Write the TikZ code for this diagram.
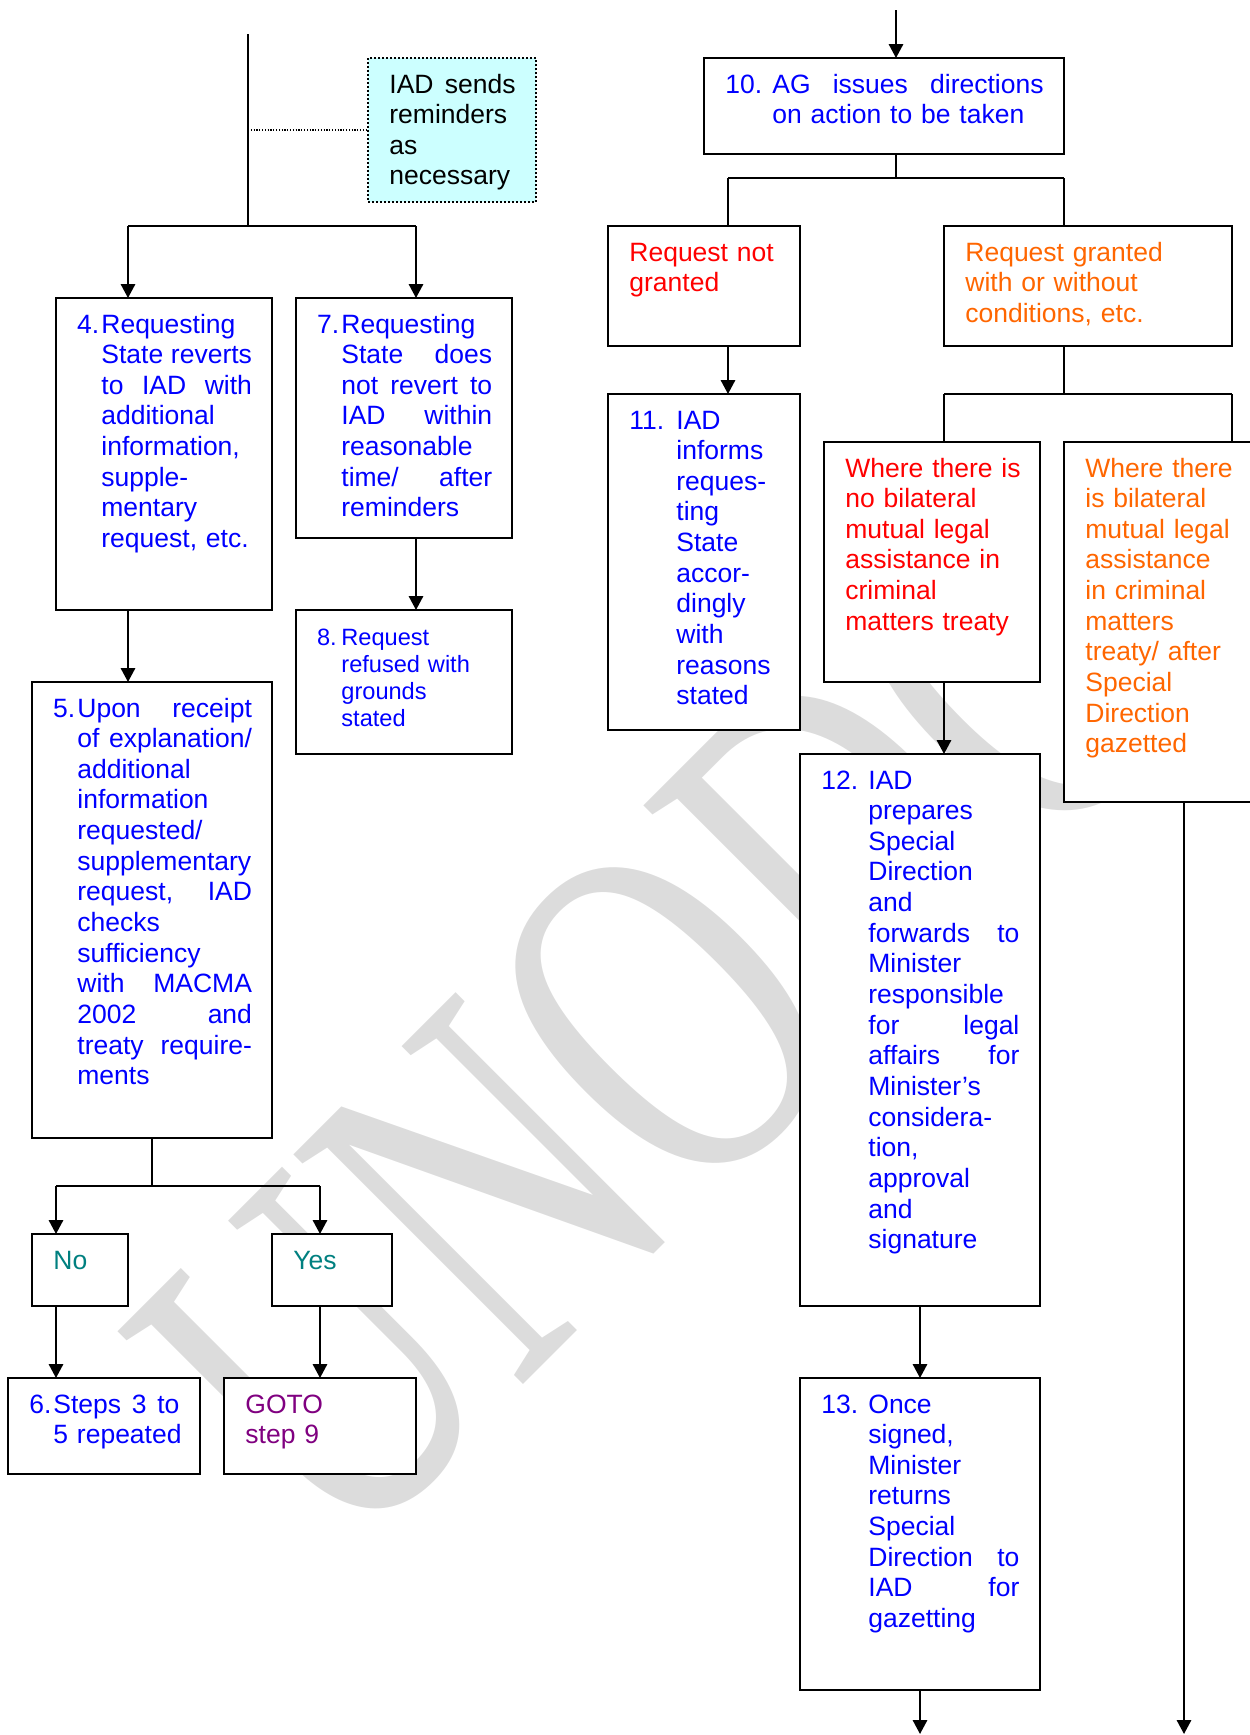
\documentclass[tikz,border=0pt]{standalone}
\usepackage{graphicx}
\usepackage{fontspec}
\setmainfont{Liberation Sans}
\newfontfamily\wmfont{Liberation Serif}
\usetikzlibrary{arrows.meta}
\definecolor{tblue}{RGB}{0,0,255}
\definecolor{tred}{RGB}{255,0,0}
\definecolor{torange}{RGB}{255,102,0}
\definecolor{tteal}{RGB}{0,128,128}
\definecolor{tpurple}{RGB}{128,0,128}
\definecolor{tcyan}{RGB}{204,255,255}
\definecolor{wmgray}{RGB}{220,220,220}
\newcommand{\JL}[2]{\leavevmode\hbox to #1{#2}}
\newcommand{\numb}[2]{\llap{\makebox[#2][l]{#1}}}
\begin{document}
\begin{tikzpicture}[x=0.5pt,y=-0.5pt,
  box/.style 2 args={draw, line width=1pt, fill=white, inner sep=0pt, outer sep=0pt,
    anchor=north west, minimum width=#1*0.5pt, minimum height=#2*0.5pt},
  txt/.style={inner sep=0pt, anchor=base west, align=left, text width=#1,
    font=\fontsize{13.25pt}{15.33pt}\selectfont},
  txt/.default=80pt,
  line/.style={line width=1pt},
  arr/.style={line width=1pt, -{Triangle[width=7.2pt,length=7pt]}}]
\useasboundingbox (0,0) rectangle (1249,1735);
% watermark
\node[rotate=45, text=wmgray, inner sep=0pt,
  font=\wmfont\fontsize{248pt}{248pt}\selectfont] (wm) at (658,1022) {\scalebox{0.69}[1]{UNODC}};

% ---------- left column ----------
\node[box={168}{144}, fill=tcyan, dash pattern=on 1pt off 1pt] (rem) at (368,58) {};
\node[txt=66pt] (trem) at (389,93) {\JL{63.1pt}{IAD\hfill sends}\\reminders\\as\\necessary};

\node[box={216}{312}] (b4) at (56,298) {};
\node[txt=78pt, text=tblue] (t4) at (101,333) {\numb{4.}{12.1pt}Requesting\\\JL{75.3pt}{State\hfill reverts}\\\JL{75.3pt}{to\hfill IAD\hfill with}\\additional\\information,\\supple-\\mentary\\request, etc.};

\node[box={216}{240}] (b7) at (296,298) {};
\node[txt=78pt, text=tblue] (t7) at (341,333) {\numb{7.}{12.1pt}Requesting\\\JL{75.4pt}{State\hfill does}\\\JL{75.4pt}{not\hfill revert\hfill to}\\\JL{75.4pt}{IAD\hfill within}\\reasonable\\\JL{75.4pt}{time/\hfill after}\\reminders};

\node[box={216}{144}] (b8) at (296,610) {};
\node[txt=78pt, text=tblue, font=\fontsize{11.8pt}{13.65pt}\selectfont] (t8) at (341,645) {\numb{8.}{12.2pt}Request\\refused with\\grounds\\stated};

\node[box={240}{456}] (b5) at (32,682) {};
\node[txt=90pt, text=tblue] (t5) at (77,717) {\numb{5.}{12.1pt}\JL{87.3pt}{Upon\hfill receipt}\\\JL{87.3pt}{of\hfill explanation/}\\additional\\information\\requested/\\supplementary\\\JL{87.3pt}{request,\hfill IAD}\\checks\\sufficiency\\\JL{87.3pt}{with\hfill MACMA}\\\JL{87.3pt}{2002\hfill and}\\\JL{87.3pt}{treaty\hfill require-}\\ments};

\node[box={96}{72}] (no) at (32,1234) {};
\node[txt=30pt, text=tteal] (tno) at (53,1269) {No};
\node[box={120}{72}] (yes) at (272,1234) {};
\node[txt=40pt, text=tteal] (tyes) at (293,1269) {Yes};

\node[box={192}{96}] (b6) at (8,1378) {};
\node[txt=66pt, text=tblue] (t6) at (53,1413) {\numb{6.}{12pt}\JL{63pt}{Steps\hfill 3\hfill to}\\5 repeated};
\node[box={192}{96}] (goto) at (224,1378) {};
\node[txt=66pt, text=tpurple] (tgoto) at (245,1413) {GOTO\\step 9};

% ---------- right column ----------
\node[box={360}{96}] (b10) at (704,58) {};
\node[txt=138pt, text=tblue] (t10) at (772,93) {\numb{10.}{23.5pt}\JL{135.6pt}{AG\hfill issues\hfill directions}\\on action to be taken};

\node[box={192}{120}] (rng) at (608,226) {};
\node[txt=78pt, text=tred] (trng) at (629,261) {Request not\\granted};
\node[box={288}{120}] (rg) at (944,226) {};
\node[txt=120pt, text=torange] (trg) at (965,261) {Request granted\\with or without\\conditions, etc.};

\node[box={192}{336}] (b11) at (608,394) {};
\node[txt=54pt, text=tblue] (t11) at (676,429) {\numb{11.}{23.5pt}IAD\\informs\\reques-\\ting\\State\\accor-\\dingly\\with\\reasons\\stated};

\node[box={216}{240}] (w1) at (824,442) {};
\node[txt=90pt, text=tred] (tw1) at (845,477) {Where there is\\no bilateral\\mutual legal\\assistance in\\criminal\\matters treaty};
\node[box={240}{360}] (w2) at (1064,442) {};
\node[txt=80pt, text=torange] (tw2) at (1085,477) {Where there\\is bilateral\\mutual legal\\assistance\\in criminal\\matters\\treaty/ after\\Special\\Direction\\gazetted};

\node[box={240}{552}] (b12) at (800,754) {};
\node[txt=78pt, text=tblue] (t12) at (868,789) {\numb{12.}{23.5pt}IAD\\prepares\\Special\\Direction\\and\\\JL{75.5pt}{forwards\hfill to}\\Minister\\responsible\\\JL{75.5pt}{for\hfill legal}\\\JL{75.5pt}{affairs\hfill for}\\Minister’s\\considera-\\tion,\\approval\\and\\signature};

\node[box={240}{312}] (b13) at (800,1378) {};
\node[txt=78pt, text=tblue] (t13) at (868,1413) {\numb{13.}{23.5pt}Once\\signed,\\Minister\\returns\\Special\\\JL{75.5pt}{Direction\hfill to}\\\JL{75.5pt}{IAD\hfill for}\\gazetting};

% ---------- connectors left ----------
\coordinate (tl) at (248,34);
\coordinate (j1) at (248,226);
\draw[line] (tl) -- (j1);
\draw[line width=0.6pt, dash pattern=on 0.6pt off 0.8pt] (j1 |- rem.west) -- (rem.west);
\coordinate (ja) at (128,226);
\coordinate (jb) at (416,226);
\draw[line] (ja) -- (jb);
\draw[arr] (ja) -- (ja |- b4.north);
\draw[arr] (jb) -- (jb |- b7.north);
\draw[arr] (jb |- b7.south) -- (jb |- b8.north);
\draw[arr] (ja |- b4.south) -- (ja |- b5.north);
\coordinate (jc) at (152,1186);
\draw[line] (jc |- b5.south) -- (jc);
\coordinate (jd) at (56,1186);
\coordinate (je) at (320,1186);
\draw[line] (jd) -- (je);
\draw[arr] (jd) -- (jd |- no.north);
\draw[arr] (je) -- (je |- yes.north);
\draw[arr] (jd |- no.south) -- (jd |- b6.north);
\draw[arr] (je |- yes.south) -- (je |- goto.north);

% ---------- connectors right ----------
\coordinate (tr) at (896,10);
\draw[arr] (tr) -- (tr |- b10.north);
\coordinate (jf) at (896,178);
\draw[line] (tr |- b10.south) -- (jf);
\coordinate (jg) at (728,178);
\coordinate (jh) at (1064,178);
\draw[line] (jg) -- (jh);
\draw[line] (jg) -- (jg |- rng.north);
\draw[line] (jh) -- (jh |- rg.north);
\draw[arr] (jg |- rng.south) -- (jg |- b11.north);
\coordinate (ji) at (1064,394);
\draw[line] (jh |- rg.south) -- (ji);
\coordinate (jj) at (944,394);
\coordinate (jk) at (1232,394);
\draw[line] (jj) -- (jk);
\draw[line] (jj) -- (jj |- w1.north);
\draw[line] (jk) -- (jk |- w2.north);
\draw[arr] (jj |- w1.south) -- (jj |- b12.north);
\coordinate (jl) at (920,1306);
\draw[arr] (jl |- b12.south) -- (jl |- b13.north);
\coordinate (bot1) at (920,1734);
\draw[arr] (jl |- b13.south) -- (bot1);
\coordinate (bot2) at (1184,1734);
\draw[arr] (bot2 |- w2.south) -- (bot2);
\end{tikzpicture}
\end{document}
